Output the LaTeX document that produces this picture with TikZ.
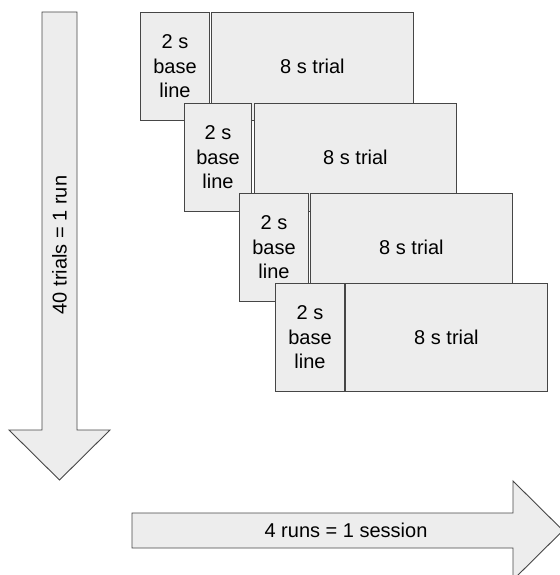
\documentclass[tikz,border=0pt]{standalone}
\usepackage{fontspec}
\setmainfont{Liberation Sans}
\definecolor{boxgray}{RGB}{237,237,237}
\definecolor{edgegray}{RGB}{70,70,70}
\tikzset{
  blk/.style={draw=edgegray, fill=boxgray, line width=0.9pt, inner sep=0pt, align=center,
    font=\fontsize{20}{24.5}\selectfont},
  basebox/.style={blk, anchor=north west, minimum height=108pt},
  trialbox/.style={blk, anchor=north west, minimum height=108pt},
  bigarrow/.style={draw=edgegray, fill=boxgray, line width=0.9pt, line join=miter}
}
\begin{document}
\begin{tikzpicture}[x=1pt,y=-1pt]
\useasboundingbox (0,0) rectangle (559,575);
% trials, each one a 2 s baseline followed by an 8 s trial
\foreach \i/\bx/\by/\bw/\tx in {1/140/12/69/211, 2/184/103/67/254, 3/239/193/69/310, 4/275/283/69/345} {
  \node[basebox, minimum width=\bw pt] (base\i) at (\bx,\by) {2 s\\base\\line};
  \node[trialbox, minimum width=202pt] (trial\i) at (\tx,\by) {8 s trial};
}
% 40 trials = 1 run
\draw[bigarrow] (42,12) -- (77,12) -- (77,430) -- (110,430) -- (59.5,480) -- (9,430) -- (42,430) -- cycle;
\node[font=\fontsize{20}{24}\selectfont, rotate=90] (runlabel) at (59.5,245) {40 trials = 1 run};
% 4 runs = 1 session
\draw[bigarrow] (132,513) -- (513,513) -- (513,481) -- (563,530.5) -- (513,580) -- (513,548) -- (132,548) -- cycle;
\node[font=\fontsize{20}{24}\selectfont] (sessionlabel) at (346,530.5) {4 runs = 1 session};
\end{tikzpicture}
\end{document}
